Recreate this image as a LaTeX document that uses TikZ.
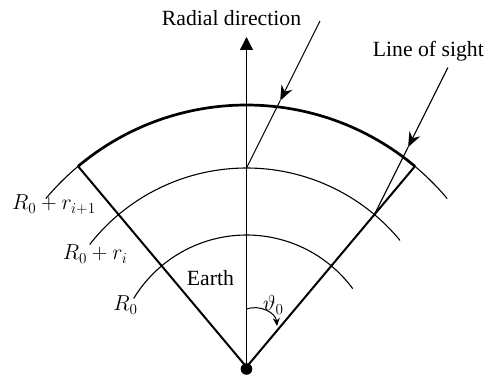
\documentclass[tikz,border=0pt]{standalone}
\usepackage{fix-cm}
\usepackage{fontspec}
\setmainfont{Liberation Serif}
\usetikzlibrary{arrows.meta,calc}
\tikzset{
  lbl/.style={font=\fontsize{21.7}{26}\selectfont, inner sep=0pt, anchor=base west},
  thinarc/.style={line width=1.1pt},
  thickarc/.style={line width=2.7pt},
  radline/.style={line width=2pt},
  sightline/.style={line width=1.1pt},
  sighttip/.style={-{Stealth[length=15pt,width=12pt,inset=5pt]}},
}
\begin{document}
\begin{tikzpicture}[x=1pt,y=1pt]
\useasboundingbox (-246.5,-8) rectangle (238.5,367);
% center
\coordinate (O) at (0,0);
% arcs
\draw[thinarc] (40:262) arc[start angle=40,end angle=140,radius=262];
\draw[thickarc] (50:262) arc[start angle=50,end angle=130,radius=262];
\draw[thinarc] (39.5:199) arc[start angle=39.5,end angle=142,radius=199];
\draw[thinarc] (36.4:132) arc[start angle=36.4,end angle=148.7,radius=132];
% radial lines
\coordinate (L) at (130:262);
\coordinate (Rr) at (50:262);
\draw[radline] (O) -- (L);
\draw[radline] (O) -- (Rr);
% vertical arrow
\coordinate (top) at (0,330);
\draw[line width=1.1pt,-{Triangle[length=13pt,width=13pt]}] (O) -- (top);
% lines of sight
\coordinate (P1) at (90:199);
\coordinate (P2) at (50:199);
\coordinate (T1) at ($(P1)+(73.5,147)$);
\coordinate (T2) at ($(P2)+(73.5,147)$);
\coordinate (M1) at ($(P1)+(33.7,67.4)$);
\coordinate (M2) at ($(P2)+(33.7,67.4)$);
\draw[sightline,sighttip] (T1) -- (M1);
\draw[sightline] (M1) -- (P1);
\draw[sightline,sighttip] (T2) -- (M2);
\draw[sightline] (M2) -- (P2);
% angle arrow
\coordinate (A0) at (0,58);
\coordinate (A1) at (30.5,41);
\draw[line width=1pt,-{Stealth[length=8pt,width=7pt]}] (A0) to[out=20,in=95] (A1);
% dot
\fill (0,-2) circle[radius=5.8pt];
% labels
\node[lbl] (rad) at (-84.8,341) {Radial direction};
\node[lbl] (los) at (126.2,310.3) {Line of sight};
\node[lbl] (earth) at (-59.8,81) {Earth};
\node[lbl] (r2) at (-234.5,157) {$R_0+r_{i+1}$};
\node[lbl] (r1) at (-183.8,107) {$R_0+r_i$};
\node[lbl] (r0) at (-133.2,56) {$R_0$};
\node[lbl] (th) at (16.5,56) {$\vartheta_0$};
\end{tikzpicture}
\end{document}
